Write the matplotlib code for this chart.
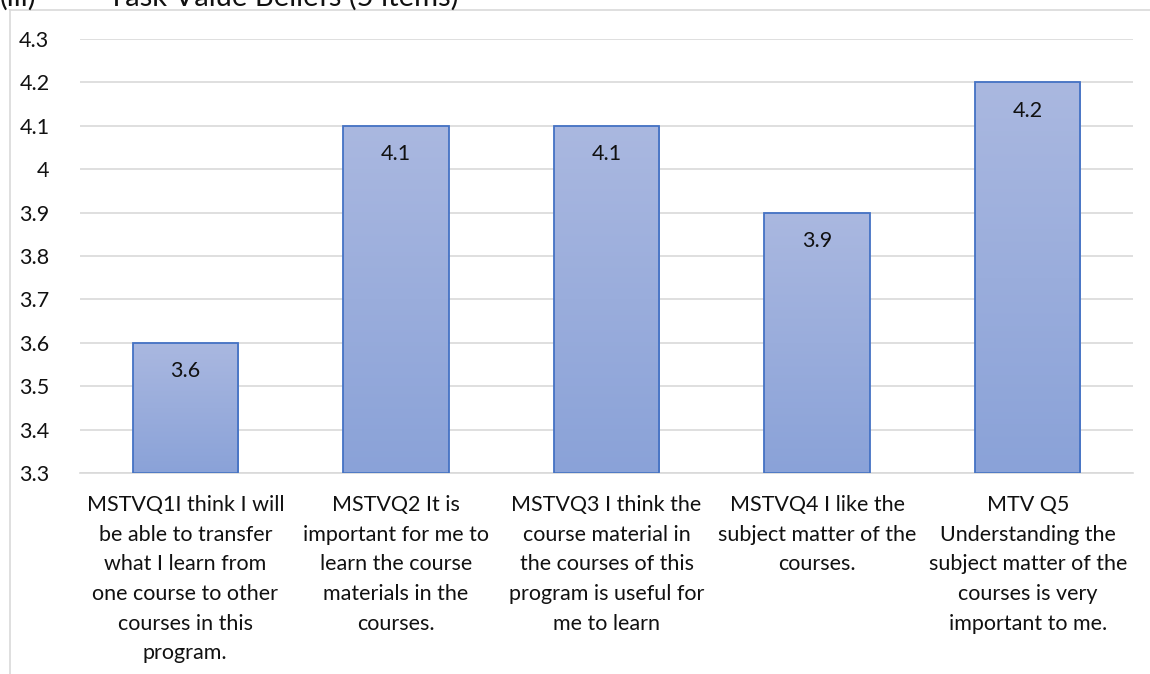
import numpy as np
import matplotlib.pyplot as plt
from matplotlib.colors import LinearSegmentedColormap

plt.rcParams['font.family'] = ['Lato', 'DejaVu Sans']

categories = [
    "MSTVQ1I think I will\nbe able to transfer\nwhat I learn from\none course to other\ncourses in this\nprogram.",
    "MSTVQ2 It is\nimportant for me to\nlearn the course\nmaterials in the\ncourses.",
    "MSTVQ3 I think the\ncourse material in\nthe courses of this\nprogram is useful for\nme to learn",
    "MSTVQ4 I like the\nsubject matter of the\ncourses.",
    "MTV Q5\nUnderstanding the\nsubject matter of the\ncourses is very\nimportant to me.",
]
values = [3.6, 4.1, 4.1, 3.9, 4.2]
yticks = [3.3, 3.4, 3.5, 3.6, 3.7, 3.8, 3.9, 4.0, 4.1, 4.2, 4.3]
ytick_labels = ["3.3", "3.4", "3.5", "3.6", "3.7", "3.8", "3.9", "4", "4.1", "4.2", "4.3"]
title_num = "(iii)"
title = "Task Value Beliefs (5 items)"

W, H = 1150, 674
fig = plt.figure(figsize=(W / 100, H / 100), dpi=100)
ax = fig.add_axes([80 / W, 1 - 473 / H, (1133 - 80) / W, (473 - 39) / H])

ymin, ymax = 3.3, 4.3
x = np.arange(len(values))
bars = ax.bar(x, [v - ymin for v in values], bottom=ymin, width=0.5,
              facecolor="none", edgecolor="#4472C4", linewidth=1.3, zorder=3)

# vertical gradient fill, clipped to each bar
cmap = LinearSegmentedColormap.from_list("grad", ["#8AA2D8", "#AAB8E0"])
grad = np.linspace(0, 1, 256).reshape(-1, 1)
for b in bars:
    x0, w = b.get_x(), b.get_width()
    im = ax.imshow(grad, cmap=cmap, origin="lower", aspect="auto",
                   extent=[x0, x0 + w, ymin, ymin + b.get_height()], zorder=2)
    im.set_clip_path(b)
    ax.text(x0 + w / 2, ymin + b.get_height() - 0.065, f"{b.get_height() + ymin:g}",
            ha="center", va="center", fontsize=15.5, color="#111111", zorder=4)

ax.set_xlim(-0.5, len(values) - 0.5)
ax.set_ylim(ymin, ymax)
ax.set_yticks(yticks)
ax.set_yticklabels(ytick_labels)
ax.set_xticks(x)
ax.set_xticklabels(categories, fontsize=15.5, linespacing=1.6, va="top")
ax.yaxis.grid(True, color="#D9D9D9", linewidth=1.2, zorder=0)
ax.set_axisbelow(True)
for s in ["top", "right", "left"]:
    ax.spines[s].set_visible(False)
ax.spines["bottom"].set_color("#D9D9D9")
ax.spines["bottom"].set_linewidth(1.2)
ax.tick_params(axis="both", length=0, labelsize=15.5, colors="#111111")
ax.tick_params(axis="y", pad=22)
ax.tick_params(axis="x", pad=16)

# chart frame
fig.add_artist(plt.Line2D([10 / W, 1], [1 - 10 / H, 1 - 10 / H], color="#D9D9D9", lw=1.2))
fig.add_artist(plt.Line2D([10 / W, 10 / W], [0, 1 - 10 / H], color="#D9D9D9", lw=1.2))

# heading sits partly above the top edge, as in the source
fig.text(0, 1 - 6 / H, title_num, fontsize=21, va="baseline", ha="left", color="#111111")
fig.text(108 / W, 1 - 6 / H, title, fontsize=21, va="baseline", ha="left", color="#111111")

fig.savefig("out.png", dpi=100)
